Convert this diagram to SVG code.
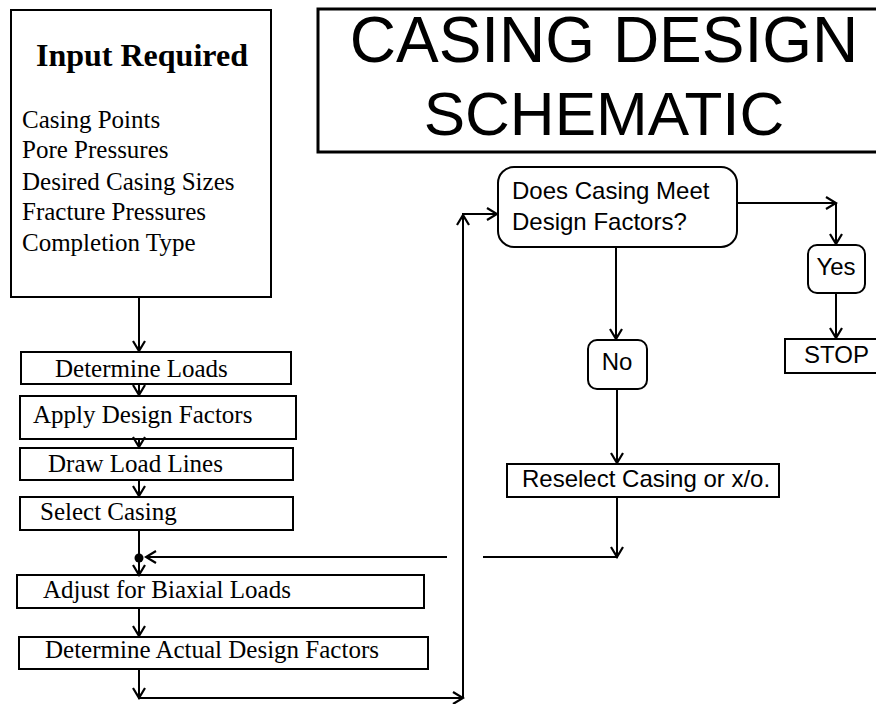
<svg xmlns="http://www.w3.org/2000/svg" width="876" height="704" viewBox="0 0 876 704">
<defs>
<style>
.bx{fill:#fff;stroke:#000;stroke-width:2}
.tt{fill:#000;font-family:"Liberation Serif","Times New Roman",serif;font-size:25px}
.ta{fill:#000;font-family:"Liberation Sans",Arial,sans-serif;font-size:24px}
.ln{fill:none;stroke:#000;stroke-width:2}
.ar{marker-end:url(#ah)}
</style>
<marker id="ah" viewBox="-12 -8 14 16" refX="0" refY="0" markerWidth="14" markerHeight="16" markerUnits="userSpaceOnUse" orient="auto">
<path d="M-10,-6 L0,0 L-10,6 M-5,0 L0,0" fill="none" stroke="#000" stroke-width="2.2" stroke-linejoin="miter"/>
</marker>
</defs>
<rect width="876" height="704" fill="#fff"/>

<g id="title">
<rect x="318" y="9" width="562" height="143" fill="#fff" stroke="#000" stroke-width="3"/>
<text x="604" y="62" text-anchor="middle" style="font-family:'Liberation Sans',Arial,sans-serif;font-size:64px" fill="#000">CASING DESIGN</text>
<text x="604" y="135" text-anchor="middle" style="font-family:'Liberation Sans',Arial,sans-serif;font-size:62px" fill="#000">SCHEMATIC</text>
</g>

<g id="input">
<rect class="bx" x="11" y="10" width="260" height="287"/>
<text x="36" y="66" style="font-family:'Liberation Serif','Times New Roman',serif;font-size:32px;font-weight:bold" fill="#000">Input Required</text>
<text class="tt" x="22" y="128">Casing Points</text>
<text class="tt" x="22" y="158">Pore Pressures</text>
<text class="tt" x="22" y="190">Desired Casing Sizes</text>
<text class="tt" x="22" y="220">Fracture Pressures</text>
<text class="tt" x="22" y="251">Completion Type</text>
</g>

<g id="determine-loads">
<rect class="bx" x="21" y="352" width="270" height="32"/>
<text class="tt" x="55" y="377">Determine Loads</text>
</g>
<g id="apply-design-factors">
<rect class="bx" x="20" y="396" width="276" height="43"/>
<text class="tt" x="33" y="423">Apply Design Factors</text>
</g>
<g id="draw-load-lines">
<rect class="bx" x="20" y="448" width="273" height="32"/>
<text class="tt" x="48" y="472">Draw Load Lines</text>
</g>
<g id="select-casing">
<rect class="bx" x="20" y="497" width="273" height="33"/>
<text class="tt" x="40" y="520">Select Casing</text>
</g>
<g id="adjust-biaxial">
<rect class="bx" x="17" y="575" width="407" height="33"/>
<text class="tt" x="43" y="598">Adjust for Biaxial Loads</text>
</g>
<g id="actual-design-factors">
<rect class="bx" x="19" y="637" width="409" height="32"/>
<text class="tt" x="45" y="658">Determine Actual Design Factors</text>
</g>

<g id="decision">
<rect class="bx" x="498" y="167" width="239" height="80" rx="16" ry="16"/>
<text class="ta" x="512" y="199">Does Casing Meet</text>
<text class="ta" x="512" y="230">Design Factors?</text>
</g>
<g id="yes">
<rect class="bx" x="808" y="245" width="57" height="48" rx="9" ry="9"/>
<text class="ta" x="836" y="275" text-anchor="middle">Yes</text>
</g>
<g id="stop">
<rect class="bx" x="785" y="339" width="94" height="34"/>
<text class="ta" x="804" y="363">STOP</text>
</g>
<g id="no">
<rect class="bx" x="588" y="340" width="59" height="49" rx="9" ry="9"/>
<text class="ta" x="617" y="370" text-anchor="middle">No</text>
</g>
<g id="reselect">
<rect class="bx" x="507" y="464" width="272" height="33"/>
<text class="ta" x="522" y="487">Reselect Casing or x/o.</text>
</g>

<g id="connectors">
<line class="ln ar" x1="139" y1="297" x2="139" y2="351"/>
<line class="ln ar" x1="139" y1="384" x2="139" y2="395"/>
<line class="ln ar" x1="139" y1="439" x2="139" y2="447"/>
<line class="ln ar" x1="139" y1="480" x2="139" y2="496"/>
<line class="ln" x1="139" y1="530" x2="139" y2="558"/>
<circle cx="139" cy="558" r="4.5" fill="#000"/>
<line class="ln ar" x1="139" y1="558" x2="139" y2="575"/>
<line class="ln ar" x1="139" y1="608" x2="139" y2="636"/>
<line class="ln ar" x1="139" y1="669" x2="139" y2="698"/>
<line class="ln ar" x1="138" y1="698" x2="463" y2="698"/>
<line class="ln ar" x1="463" y1="698" x2="463" y2="215"/>
<line class="ln ar" x1="462" y1="214" x2="497" y2="214"/>
<line class="ln ar" x1="737" y1="203" x2="836" y2="203"/>
<line class="ln ar" x1="836" y1="203" x2="836" y2="244"/>
<line class="ln ar" x1="836" y1="293" x2="836" y2="338"/>
<line class="ln ar" x1="616" y1="247" x2="616" y2="339"/>
<line class="ln ar" x1="617" y1="389" x2="617" y2="463"/>
<line class="ln ar" x1="617" y1="497" x2="617" y2="557"/>
<line class="ln" x1="618" y1="557" x2="483" y2="557"/>
<line class="ln ar" x1="447" y1="557" x2="146" y2="557"/>
</g>
</svg>
